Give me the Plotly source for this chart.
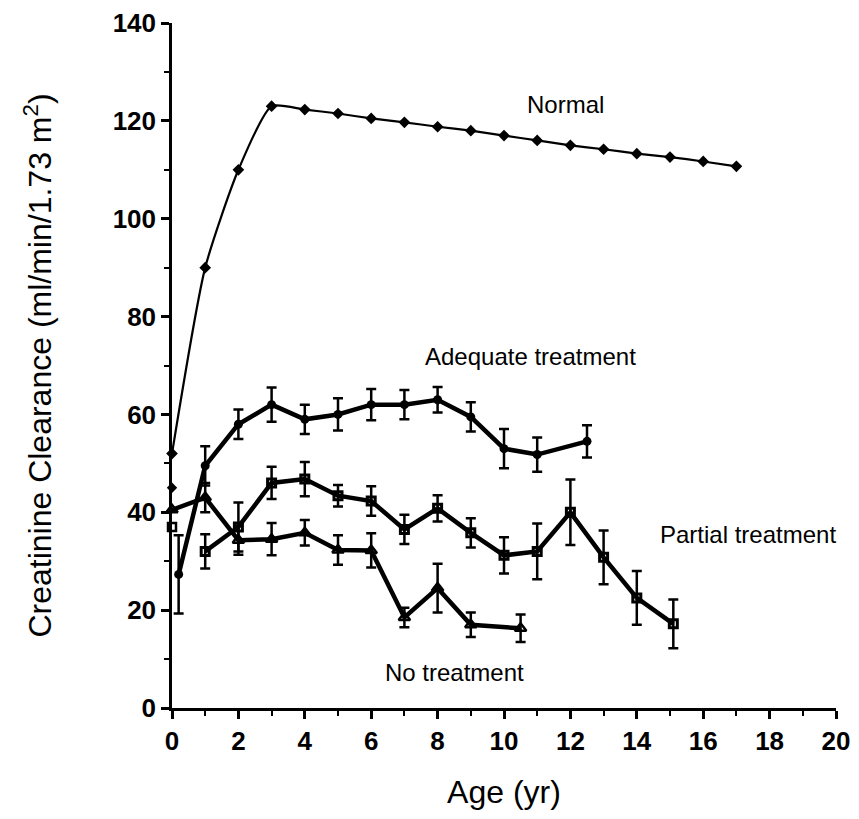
import plotly.graph_objects as go

# Normal
normal_age = [0, 1, 2, 3, 4, 5, 6, 7, 8, 9, 10, 11, 12, 13, 14, 15, 16, 17]
normal_val = [52, 90, 110, 123, 122.3, 121.5, 120.5, 119.7, 118.8, 118, 117, 116, 115, 114.2, 113.3, 112.6, 111.7, 110.7]
normal_extra_age = [0]
normal_extra_val = [45]

# Adequate treatment
adeq_age = [0.2, 1, 2, 3, 4, 5, 6, 7, 8, 9, 10, 11, 12.5]
adeq_val = [27.3, 49.5, 58, 62, 59, 60, 62, 62, 63, 59.5, 53, 51.8, 54.5]
adeq_err = [8, 4, 3, 3.5, 3, 3.3, 3.2, 3, 2.6, 3, 4, 3.5, 3.3]

# Partial treatment
part_age = [1, 2, 3, 4, 5, 6, 7, 8, 9, 10, 11, 12, 13, 14, 15.1]
part_val = [32, 37, 46, 46.8, 43.4, 42.3, 36.5, 40.8, 35.8, 31.2, 32, 40, 30.8, 22.5, 17.2]
part_err = [3.5, 5, 3.3, 3.5, 2.2, 3, 3, 2.7, 3, 3.7, 5.7, 6.7, 5.5, 5.5, 5]
part_extra_age = [0]
part_extra_val = [37]

# No treatment
none_age = [0, 1, 2, 3, 4, 5, 6, 7, 8, 9, 10.5]
none_val = [40.5, 43, 34.3, 34.5, 35.8, 32.3, 32.2, 18.5, 24.5, 17, 16.3]
none_err = [0, 3, 3, 3.3, 2.6, 3, 3.5, 2, 5, 2.5, 2.8]

# Labels
label_text = ["Normal", "Adequate treatment", "Partial treatment", "No treatment"]
label_x = [11.85, 10.8, 17.35, 8.5]
label_y = [123.3, 71.8, 35.5, 7.2]

fig = go.Figure()

fig.add_trace(go.Scatter(
    x=normal_age, y=normal_val, mode="lines+markers",
    line=dict(color="black", width=2.2, shape="spline", smoothing=0.6),
    marker=dict(symbol="diamond", size=9, color="black"),
    cliponaxis=False, showlegend=False))
fig.add_trace(go.Scatter(
    x=normal_extra_age, y=normal_extra_val, mode="markers",
    marker=dict(symbol="diamond", size=8, color="black"),
    cliponaxis=False, showlegend=False))

fig.add_trace(go.Scatter(
    x=adeq_age, y=adeq_val, mode="lines+markers",
    line=dict(color="black", width=4.5),
    marker=dict(symbol="circle", size=9, color="black"),
    error_y=dict(type="data", array=adeq_err, color="black", thickness=2.5, width=5),
    cliponaxis=False, showlegend=False))

fig.add_trace(go.Scatter(
    x=part_age, y=part_val, mode="lines+markers",
    line=dict(color="black", width=4.5),
    marker=dict(symbol="square-open", size=8, color="black", line=dict(width=3)),
    error_y=dict(type="data", array=part_err, color="black", thickness=2.5, width=5),
    cliponaxis=False, showlegend=False))
fig.add_trace(go.Scatter(
    x=part_extra_age, y=part_extra_val, mode="markers",
    marker=dict(symbol="square-open", size=8, color="black", line=dict(width=2.5)),
    cliponaxis=False, showlegend=False))

fig.add_trace(go.Scatter(
    x=none_age, y=none_val, mode="lines+markers",
    line=dict(color="black", width=4.5),
    marker=dict(symbol="triangle-up-open", size=10, color="black", line=dict(width=2.5)),
    error_y=dict(type="data", array=none_err, color="black", thickness=2.5, width=5),
    cliponaxis=False, showlegend=False))

for t, x, y in zip(label_text, label_x, label_y):
    fig.add_annotation(x=x, y=y, text=t, showarrow=False,
                       font=dict(family="Liberation Sans, Arial", size=24, color="black"))

axis_font = dict(family="Liberation Sans, Arial", size=26, color="black", weight="bold")
fig.update_layout(
    width=843, height=803,
    margin=dict(l=164, r=15, t=15, b=103),
    plot_bgcolor="white", paper_bgcolor="white",
    xaxis=dict(range=[0, 20], tickmode="linear", tick0=0, dtick=2, automargin=False,
               showgrid=False, zeroline=False, showline=True, linecolor="black", linewidth=2.5,
               ticks="outside", ticklen=8, tickwidth=2.5, tickcolor="black",
               minor=dict(dtick=1, ticks="outside", ticklen=5, tickwidth=2, tickcolor="black"),
               tickfont=axis_font, ticklabeloverflow="allow",
               title=dict(text="Age (yr)", font=dict(family="Liberation Sans, Arial", size=32, color="black"), standoff=26)),
    yaxis=dict(range=[0, 140], tickmode="linear", tick0=0, dtick=20, automargin=False,
               showgrid=False, zeroline=False, showline=True, linecolor="black", linewidth=2.5,
               ticks="outside", ticklen=8, tickwidth=2.5, tickcolor="black",
               minor=dict(dtick=10, ticks="outside", ticklen=5, tickwidth=2, tickcolor="black"),
               tickfont=axis_font, ticklabeloverflow="allow",
               title=dict(text="Creatinine Clearance (ml/min/1.73 m<sup>2</sup>)", font=dict(family="Liberation Sans, Arial", size=32, color="black"), standoff=52)),
)

fig.write_html("out.html")
